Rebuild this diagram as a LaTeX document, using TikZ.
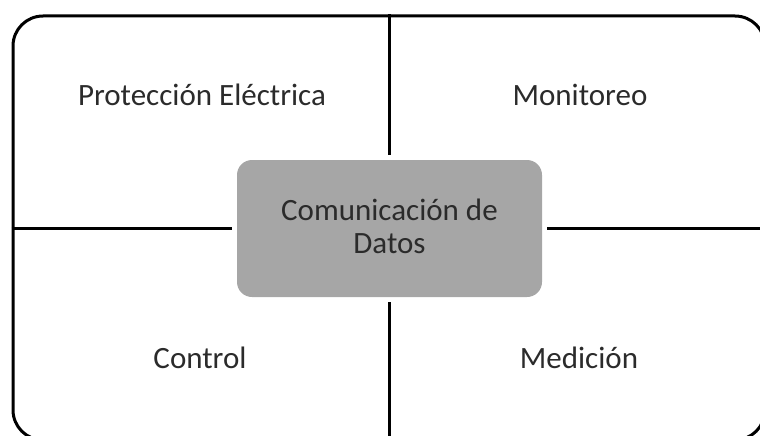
\documentclass[tikz,border=0pt]{standalone}
\usepackage{fontspec}
\setmainfont{Carlito}
\definecolor{hubgray}{HTML}{A6A6A6}
\definecolor{txt}{HTML}{2B2B2B}
\begin{document}
\begin{tikzpicture}[x=1pt,y=-1pt,
  frame/.style={draw=black, line width=3pt, rounded corners=30pt, minimum width=752pt, minimum height=424pt, inner sep=0pt},
  hub/.style={fill=hubgray, rounded corners=15pt, minimum width=305pt, minimum height=137pt, inner sep=0pt},
  conn/.style={draw=black, line width=3pt},
  lbl/.style={text=txt, font=\fontsize{31}{33}\selectfont, inner sep=0pt, anchor=base}]
\useasboundingbox (0,0) rectangle (760,436);
\clip (0,0) rectangle (760,436);
\node[frame] (frame) at (389,228) {};
\node[hub] (hub) at (389.5,228.5) {};
\draw[conn, shorten >=5pt] (frame.north -| hub.center) -- (hub.north);
\draw[conn, shorten >=5pt] (frame.south -| hub.center) -- (hub.south);
\draw[conn, shorten >=5pt] (frame.west |- hub.center) -- (hub.west);
\draw[conn, shorten >=5pt] (frame.east |- hub.center) -- (hub.east);
\node[lbl] (t1) at (389.5,220) {Comunicación de};
\node[lbl] (t2) at (389.5,253) {Datos};
\node[lbl] (pe) at (202,105) {Protección Eléctrica};
\node[lbl] (mo) at (580,105) {Monitoreo};
\node[lbl] (co) at (200,368) {Control};
\node[lbl] (me) at (579,368) {Medición};
\end{tikzpicture}
\end{document}
